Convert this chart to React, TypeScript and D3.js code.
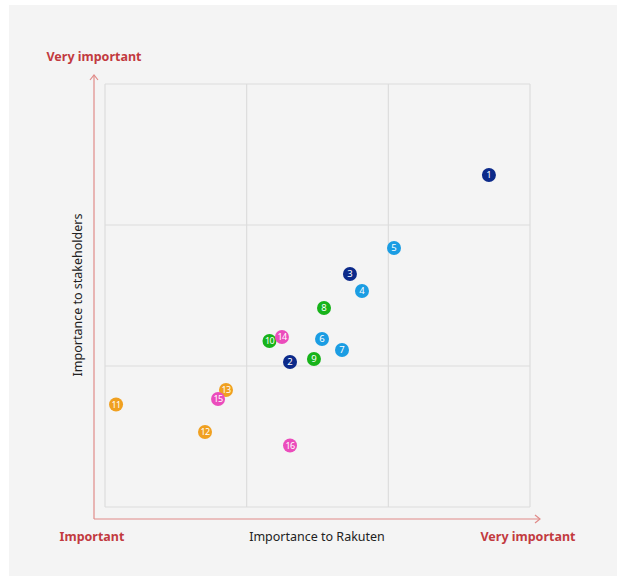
import React from "react";
import * as d3 from "d3";

const ids = [1, 2, 3, 4, 5, 6, 7, 8, 9, 10, 11, 12, 13, 14, 15, 16];
const rakuten = [2.71, 1.306, 1.729, 1.814, 2.04, 1.532, 1.673, 1.546, 1.475, 1.161, 0.078, 0.706, 0.854, 1.249, 0.798, 1.306];
const stakeholders = [2.355, 1.028, 1.652, 1.532, 1.837, 1.191, 1.113, 1.411, 1.05, 1.177, 0.727, 0.532, 0.83, 1.206, 0.766, 0.436];
const groups = ["navy", "navy", "navy", "blue", "blue", "blue", "blue", "green", "green", "green", "orange", "orange", "orange", "pink", "pink", "pink"];
const groupColors: Record<string, string> = {
  navy: "#0c2a8a",
  blue: "#1b9de3",
  green: "#17b31a",
  orange: "#f0a020",
  pink: "#eb4cbc",
};
const gridTicks = [0, 1, 2, 3];

export default function App() {
  const W = 617, H = 579;
  const x = d3.scaleLinear().domain([0, 3]).range([105, 530]);
  const y = d3.scaleLinear().domain([0, 3]).range([507, 84]);
  const font = "'Noto Sans', 'Open Sans', sans-serif";
  const red = "#c23a3f";
  const axisRed = "#e08a88";
  // draw later-indexed points so 13 is under 15 and 10 under 14
  const order = ids.map((_, i) => i);
  return (
    <svg width={W} height={H} style={{ position: "absolute", left: 0, top: 0 }}>
      <rect x={0} y={0} width={W} height={H} fill="#ffffff" />
      <rect x={9} y={5} width={W - 9} height={571} fill="#f4f4f4" />
      {/* grid */}
      <g stroke="#dcdcdc" strokeWidth={1.2} fill="none">
        {gridTicks.map((t) => (
          <line key={"v" + t} x1={x(t)} x2={x(t)} y1={y(0)} y2={y(3)} />
        ))}
        {gridTicks.map((t) => (
          <line key={"h" + t} x1={x(0)} x2={x(3)} y1={y(t)} y2={y(t)} />
        ))}
      </g>
      {/* axes arrows */}
      <g stroke={axisRed} strokeWidth={1.2} fill="none">
        <line x1={94} y1={519} x2={94} y2={75} />
        <polyline points="90,80 94,75 98,80" />
        <line x1={94} y1={519} x2={540} y2={519} />
        <polyline points="535,515 540,519 535,523" />
      </g>
      <text x={94} y={61} textAnchor="middle" fill={red} fontFamily={font} fontSize={12.5} fontWeight={700}>
        Very important
      </text>
      <text x={92} y={541} textAnchor="middle" fill={red} fontFamily={font} fontSize={12.5} fontWeight={700}>
        Important
      </text>
      <text x={528} y={541} textAnchor="middle" fill={red} fontFamily={font} fontSize={12.5} fontWeight={700}>
        Very important
      </text>
      <text x={317} y={541} textAnchor="middle" fill="#222" fontFamily={font} fontSize={12.5}>
        Importance to Rakuten
      </text>
      <text
        transform={`translate(82,295) rotate(-90)`}
        textAnchor="middle"
        fill="#222"
        fontFamily={font}
        fontSize={12.5}
      >
        Importance to stakeholders
      </text>
      {/* points */}
      {order.map((i) => (
        <g key={ids[i]} transform={`translate(${x(rakuten[i])},${y(stakeholders[i])})`}>
          <circle r={7} fill={groupColors[groups[i]]} />
          <text
            textAnchor="middle"
            dy="0.35em"
            fill="#ffffff"
            fontFamily={font}
            fontSize={ids[i] >= 10 ? 9 : 9.5}
            letterSpacing={ids[i] >= 10 ? -0.6 : 0}
          >
            {ids[i]}
          </text>
        </g>
      ))}
    </svg>
  );
}
